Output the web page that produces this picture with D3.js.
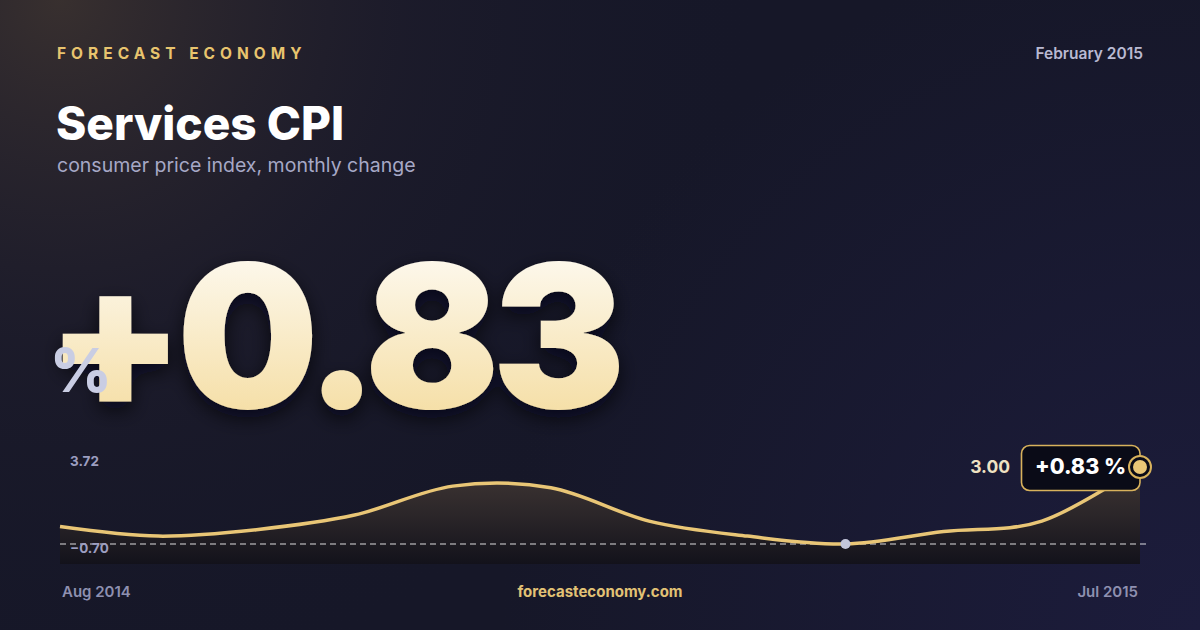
<!DOCTYPE html>
<html>
<head>
<meta charset="utf-8">
<script src="https://cdn.jsdelivr.net/npm/d3@7"></script>
<style>
  html, body { margin: 0; padding: 0; background: #171829; }
  svg { display: block; font-family: Inter, "Noto Sans", sans-serif; }
</style>
</head>
<body>
<svg></svg>
<script>
  // Chart data
  const months = ["Aug 2014", "Sep 2014", "Oct 2014", "Nov 2014", "Dec 2014", "Jan 2015",
    "Feb 2015", "Mar 2015", "Apr 2015", "May 2015", "Jun 2015", "Jul 2015"];
  const values = [0.14, -0.32, -0.01, 0.69, 2.08, 2.00, 0.40, -0.32, -0.70, -0.10, 0.40, 3.00];
  const yTickLabels = [3.72, -0.70];
  const headline = "+0.83";
  const calloutLabel = "+0.83 %";

  const w = 1200;
  const h = 630;

  const svg = d3.select("svg")
    .attr("width", w)
    .attr("height", h);

  const defs = svg.append("defs");

  // Background
  const glow = defs.append("radialGradient")
    .attr("id", "glow")
    .attr("gradientUnits", "userSpaceOnUse")
    .attr("cx", 60).attr("cy", 0).attr("r", 700);
  glow.append("stop").attr("offset", 0).attr("stop-color", "#3e3430").attr("stop-opacity", 0.85);
  glow.append("stop").attr("offset", 0.5).attr("stop-color", "#26222e").attr("stop-opacity", 0.35);
  glow.append("stop").attr("offset", 1).attr("stop-color", "#171829").attr("stop-opacity", 0);

  const navy = defs.append("radialGradient")
    .attr("id", "navy")
    .attr("gradientUnits", "userSpaceOnUse")
    .attr("cx", 1200).attr("cy", 630).attr("r", 700);
  navy.append("stop").attr("offset", 0).attr("stop-color", "#1c1c3c").attr("stop-opacity", 1);
  navy.append("stop").attr("offset", 1).attr("stop-color", "#1c1c3c").attr("stop-opacity", 0);

  svg.append("rect").attr("width", w).attr("height", h).attr("fill", "#161728");
  svg.append("rect").attr("width", w).attr("height", h).attr("fill", "url(#navy)");
  svg.append("rect").attr("width", w).attr("height", h).attr("fill", "url(#glow)");

  // Header
  svg.append("text")
    .attr("x", 57).attr("y", 59)
    .attr("fill", "#e8c46e")
    .attr("font-size", 15.5).attr("font-weight", 700)
    .attr("letter-spacing", 5)
    .text("FORECAST ECONOMY");

  svg.append("text")
    .attr("x", 1143).attr("y", 59)
    .attr("text-anchor", "end")
    .attr("fill", "#b9b9d2")
    .attr("font-size", 15.5).attr("font-weight", 600)
    .text("February 2015");

  svg.append("text")
    .attr("x", 56).attr("y", 140)
    .attr("fill", "#ffffff")
    .attr("font-size", 46).attr("font-weight", 800)
    .text("Services CPI");

  svg.append("text")
    .attr("x", 57).attr("y", 172)
    .attr("fill", "#a6a8c6")
    .attr("font-size", 19.5).attr("font-weight", 400)
    .text("consumer price index, monthly change");

  // Headline number
  const numGrad = defs.append("linearGradient")
    .attr("id", "numGrad")
    .attr("x1", 0).attr("y1", 0).attr("x2", 0).attr("y2", 1);
  numGrad.append("stop").attr("offset", 0).attr("stop-color", "#ffffff");
  numGrad.append("stop").attr("offset", 1).attr("stop-color", "#f3d894");

  const shadow = defs.append("filter")
    .attr("id", "shadow")
    .attr("x", "-10%").attr("y", "-10%").attr("width", "120%").attr("height", "130%");
  shadow.append("feDropShadow")
    .attr("dx", 0).attr("dy", 8).attr("stdDeviation", 10)
    .attr("flood-color", "#05050c").attr("flood-opacity", 0.7);

  svg.append("text")
    .attr("x", 46).attr("y", 408)
    .attr("fill", "url(#numGrad)")
    .attr("font-size", 200).attr("font-weight", 900)
    .attr("letter-spacing", -8)
    .attr("filter", "url(#shadow)")
    .text(headline);

  svg.append("text")
    .attr("x", 50).attr("y", 392)
    .attr("fill", "#c9cde3")
    .attr("font-size", 60).attr("font-weight", 800)
    .text("%");

  // Sparkline
  const x = d3.scalePoint()
    .domain(months)
    .range([60, 1140]);

  const y = d3.scaleLinear()
    .domain([d3.min(yTickLabels), d3.max(yTickLabels)])
    .range([544, 452]);

  const plotBottom = 564;

  const areaGrad = defs.append("linearGradient")
    .attr("id", "areaGrad")
    .attr("gradientUnits", "userSpaceOnUse")
    .attr("x1", 0).attr("y1", 455).attr("x2", 0).attr("y2", plotBottom);
  areaGrad.append("stop").attr("offset", 0).attr("stop-color", "#453a36");
  areaGrad.append("stop").attr("offset", 0.55).attr("stop-color", "#2b2629");
  areaGrad.append("stop").attr("offset", 1).attr("stop-color", "#13121b");

  const series = months.map((m, i) => ({ month: m, value: values[i] }));

  const area = d3.area()
    .x((d) => x(d.month))
    .y0(plotBottom)
    .y1((d) => y(d.value))
    .curve(d3.curveCatmullRom.alpha(0));

  const line = d3.line()
    .x((d) => x(d.month))
    .y((d) => y(d.value))
    .curve(d3.curveCatmullRom.alpha(0));

  svg.append("path")
    .datum(series)
    .attr("d", area)
    .attr("fill", "url(#areaGrad)");

  svg.append("line")
    .attr("x1", 60).attr("x2", 1146)
    .attr("y1", y(d3.min(values))).attr("y2", y(d3.min(values)))
    .attr("stroke", "#ffffff")
    .attr("stroke-opacity", 0.85)
    .attr("stroke-width", 1.2)
    .attr("stroke-dasharray", "6 4");

  svg.append("path")
    .datum(series)
    .attr("d", line)
    .attr("fill", "none")
    .attr("stroke", "#e9c676")
    .attr("stroke-width", 3.5)
    .attr("stroke-linejoin", "round");

  // Axis labels (max / min)
  svg.selectAll(".ytick")
    .data(yTickLabels)
    .enter()
    .append("text")
    .attr("class", "ytick")
    .attr("x", 70)
    .attr("y", (d) => y(d) + (d === d3.max(yTickLabels) ? 14 : 9))
    .attr("fill", "#9c9ec0")
    .attr("font-size", 13.5).attr("font-weight", 700)
    .text((d) => d3.format(".2f")(d));

  // Minimum marker
  const minIdx = d3.minIndex(values);
  svg.append("circle")
    .attr("cx", x(months[minIdx]))
    .attr("cy", y(values[minIdx]))
    .attr("r", 5)
    .attr("fill", "#c3c6da");

  // Last value callout
  const last = series[series.length - 1];
  const lx = x(last.month);
  const ly = y(last.value);

  svg.append("text")
    .attr("x", 1010).attr("y", ly + 6)
    .attr("text-anchor", "end")
    .attr("fill", "#efe2c2")
    .attr("font-size", 17.5).attr("font-weight", 700)
    .text(d3.format(".2f")(last.value));

  svg.append("rect")
    .attr("x", 1021.5).attr("y", ly - 21.5)
    .attr("width", lx - 1021.5).attr("height", 45)
    .attr("rx", 8)
    .attr("fill", "#0a0b17")
    .attr("stroke", "#d8b25c")
    .attr("stroke-width", 1.6);

  svg.append("text")
    .attr("x", 1035).attr("y", ly + 7.5)
    .attr("fill", "#ffffff")
    .attr("font-size", 21.5).attr("font-weight", 800)
    .text(calloutLabel);

  svg.append("circle")
    .attr("cx", lx).attr("cy", ly)
    .attr("r", 11)
    .attr("fill", "#0a0b17")
    .attr("stroke", "#d8b25c")
    .attr("stroke-width", 2);

  svg.append("circle")
    .attr("cx", lx).attr("cy", ly)
    .attr("r", 7)
    .attr("fill", "#e9c676");

  // Footer
  svg.append("text")
    .attr("x", 62).attr("y", 597)
    .attr("fill", "#8e90b0")
    .attr("font-size", 15).attr("font-weight", 600)
    .text(months[0]);

  svg.append("text")
    .attr("x", 1138).attr("y", 597)
    .attr("text-anchor", "end")
    .attr("fill", "#8e90b0")
    .attr("font-size", 15).attr("font-weight", 600)
    .text(months[months.length - 1]);

  svg.append("text")
    .attr("x", 600).attr("y", 597)
    .attr("text-anchor", "middle")
    .attr("fill", "#e2c275")
    .attr("font-size", 15).attr("font-weight", 700)
    .text("forecasteconomy.com");
</script>
</body>
</html>
